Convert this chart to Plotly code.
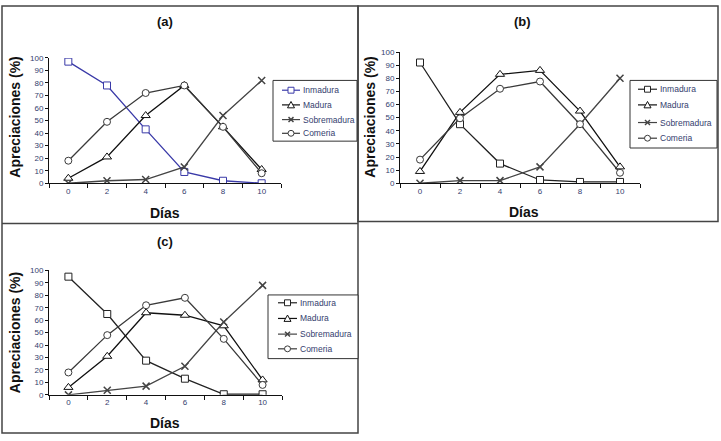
import plotly.graph_objects as go

dias = [0, 2, 4, 6, 8, 10]
series_names = ["Inmadura", "Madura", "Sobremadura", "Comeria"]

# Panel (a)
a_inmadura = [97, 78, 43, 9, 2, 0]
a_madura = [4, 21, 54, 78, 45, 11]
a_sobremadura = [0, 2, 3, 13, 54, 82]
a_comeria = [18, 49, 72, 78, 45, 8]

# Panel (b)
b_inmadura = [92, 45, 15, 2.5, 1, 1]
b_madura = [9, 54, 83, 86, 55, 12.5]
b_sobremadura = [0, 2, 2, 12.5, 45, 80]
b_comeria = [18, 49.5, 72, 77.5, 45, 8]

# Panel (c)
c_inmadura = [95, 65, 27.5, 13, 0.5, 0.5]
c_madura = [6, 31, 66, 64, 55.5, 12]
c_sobremadura = [0, 3.7, 7, 23, 58.6, 88]
c_comeria = [18, 48, 72, 78, 45, 8]

y_ticks = list(range(0, 101, 10))
x_minor = [-1, 1, 3, 5, 7, 9, 11]

W, H = 721, 441
FONT = "Arial, Liberation Sans, sans-serif"
TICKCOL = "#34406e"

fig = go.Figure()

symbols = ["square", "triangle-up", "x-thin-open", "circle"]
sizes = [7, 8, 7, 7]

panels = [
    ("a", "x", "y", [a_inmadura, a_madura, a_sobremadura, a_comeria],
     ["#3a3aa8", "#111111", "#444444", "#3a3a3a"]),
    ("b", "x2", "y2", [b_inmadura, b_madura, b_sobremadura, b_comeria],
     ["#222222", "#111111", "#444444", "#3a3a3a"]),
    ("c", "x3", "y3", [c_inmadura, c_madura, c_sobremadura, c_comeria],
     ["#222222", "#111111", "#444444", "#3a3a3a"]),
]

for label, xa, ya, data, colors in panels:
    for name, vals, sym, sz, col in zip(series_names, data, symbols, sizes, colors):
        if sym == "x-thin-open":
            marker = dict(symbol=sym, size=sz, color=col, line=dict(color=col, width=1.5))
        else:
            marker = dict(symbol=sym, size=sz, color="white", line=dict(color=col, width=1))
        fig.add_trace(go.Scatter(
            x=dias, y=vals, name=name, mode="lines+markers",
            line=dict(color=col, width=1.3), marker=marker,
            xaxis=xa, yaxis=ya, showlegend=False,
        ))


def px_x(p):
    return p / W


def px_y(p):
    return 1 - p / H


axis_common_x = dict(
    range=[-1, 11], tickvals=dias, ticktext=[str(d) for d in dias], ticks="",
    showgrid=False, zeroline=False, showline=True, linecolor="#111", linewidth=1,
    tickfont=dict(family=FONT, size=8, color=TICKCOL),
    minor=dict(tickvals=x_minor, ticks="outside", ticklen=4, tickcolor="#111", tickwidth=1),
    fixedrange=True,
)
axis_common_y = dict(
    range=[0, 100], tickvals=y_ticks, ticks="outside", ticklen=3, tickcolor="#111",
    showgrid=False, zeroline=False, showline=True, linecolor="#111", linewidth=1,
    tickfont=dict(family=FONT, size=8, color=TICKCOL), fixedrange=True,
)

fig.update_layout(
    width=W, height=H, autosize=False,
    margin=dict(l=0, r=0, t=0, b=0),
    paper_bgcolor="white", plot_bgcolor="white",
    font=dict(family=FONT, color="#111"),
    showlegend=False,
    xaxis=dict(domain=[px_x(49), px_x(281)], anchor="y", **axis_common_x),
    yaxis=dict(domain=[px_y(183), px_y(55)], anchor="x", **axis_common_y),
    xaxis2=dict(domain=[px_x(400), px_x(640)], anchor="y2", **axis_common_x),
    yaxis2=dict(domain=[px_y(183), px_y(49)], anchor="x2", **axis_common_y),
    xaxis3=dict(domain=[px_x(49), px_x(282)], anchor="y3", **axis_common_x),
    yaxis3=dict(domain=[px_y(399), px_y(272)], anchor="x3", **axis_common_y),
)

shapes = []
ann = []

# Panel frames
frame = dict(color="#444", width=1.5)
shapes.append(dict(type="rect", xref="paper", yref="paper",
                   x0=px_x(2), x1=px_x(358), y0=px_y(438), y1=px_y(2), line=frame))
shapes.append(dict(type="line", xref="paper", yref="paper",
                   x0=px_x(2), x1=px_x(358), y0=px_y(224), y1=px_y(224), line=frame))
shapes.append(dict(type="rect", xref="paper", yref="paper",
                   x0=px_x(358), x1=px_x(718), y0=px_y(222), y1=px_y(2), line=frame))


# Legend boxes (drawn as decoration, keyed by series name)
def add_legend(box, line_x0, line_x1, text_x, rows, colors):
    bx0, by0, bx1, by1 = box
    shapes.append(dict(type="rect", xref="paper", yref="paper",
                       x0=px_x(bx0), x1=px_x(bx1), y0=px_y(by1), y1=px_y(by0),
                       line=dict(color="#333", width=1), fillcolor="white", layer="above"))
    mx = (line_x0 + line_x1) / 2
    for name, sym, yy, col in zip(series_names, symbols, rows, colors):
        shapes.append(dict(type="line", xref="paper", yref="paper",
                           x0=px_x(line_x0), x1=px_x(line_x1), y0=px_y(yy), y1=px_y(yy),
                           line=dict(color=col, width=1.2), layer="above"))
        r = 3
        if sym == "square":
            shapes.append(dict(type="rect", xref="paper", yref="paper",
                               x0=px_x(mx - r), x1=px_x(mx + r), y0=px_y(yy + r), y1=px_y(yy - r),
                               line=dict(color=col, width=1), fillcolor="white", layer="above"))
        elif sym == "circle":
            shapes.append(dict(type="circle", xref="paper", yref="paper",
                               x0=px_x(mx - r), x1=px_x(mx + r), y0=px_y(yy + r), y1=px_y(yy - r),
                               line=dict(color=col, width=1), fillcolor="white", layer="above"))
        elif sym == "triangle-up":
            path = (f"M {px_x(mx - 3.5)},{px_y(yy + 3)} L {px_x(mx + 3.5)},{px_y(yy + 3)} "
                    f"L {px_x(mx)},{px_y(yy - 3.5)} Z")
            shapes.append(dict(type="path", xref="paper", yref="paper", path=path,
                               line=dict(color=col, width=1), fillcolor="white", layer="above"))
        else:
            for s in (1, -1):
                shapes.append(dict(type="line", xref="paper", yref="paper",
                                   x0=px_x(mx - 2.5), x1=px_x(mx + 2.5),
                                   y0=px_y(yy - 2.5 * s), y1=px_y(yy + 2.5 * s),
                                   line=dict(color=col, width=1.5), layer="above"))
        ann.append(dict(text=name, x=px_x(text_x), y=px_y(yy), xref="paper", yref="paper",
                        xanchor="left", yanchor="middle", showarrow=False,
                        font=dict(family=FONT, size=8.5, color=TICKCOL)))


add_legend((273, 78, 357, 140), 282, 300, 301, [88, 103, 118, 132], panels[0][4])
add_legend((630, 78, 717, 147), 638, 657, 658, [87, 103, 121, 137], panels[1][4])
add_legend((268, 297, 358, 362), 278, 297, 298, [305, 321, 337, 352], panels[2][4])

for label, cx, ty, dx, yt, yx, ycen in [
    ("(a)", 165, 18, 165, 213, 15, 116),
    ("(b)", 522, 18, 524, 212, 370, 116),
    ("(c)", 165, 242, 165, 428, 15, 336),
]:
    ann.append(dict(text=f"<b>{label}</b>", x=px_x(cx), y=px_y(ty), xref="paper", yref="paper",
                    xanchor="center", yanchor="middle", showarrow=False,
                    font=dict(family=FONT, size=13, color="#111")))
    ann.append(dict(text="<b>Días</b>", x=px_x(dx), y=px_y(yt), xref="paper", yref="paper",
                    xanchor="center", yanchor="middle", showarrow=False,
                    font=dict(family=FONT, size=14, color="#111")))
    ann.append(dict(text="<b>Apreciaciones (%)</b>", x=px_x(yx), y=px_y(ycen), xref="paper",
                    yref="paper", xanchor="center", yanchor="middle", showarrow=False,
                    textangle=-90, font=dict(family=FONT, size=14, color="#111")))

fig.update_layout(shapes=shapes, annotations=ann)

fig.write_html("out.html", config={"displayModeBar": False},
               post_script="document.body.style.margin='0';document.body.style.overflow='hidden';")
